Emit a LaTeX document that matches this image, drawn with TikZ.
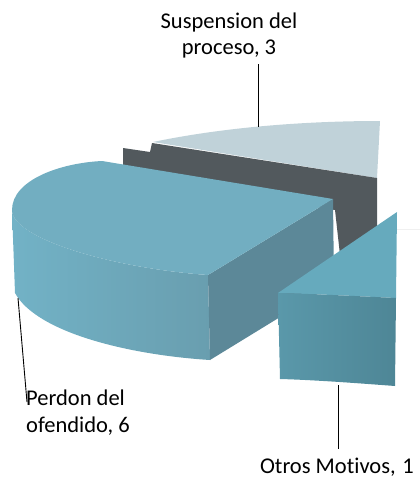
\documentclass[tikz,border=0pt]{standalone}
\usepackage{fontspec}
\setmainfont{Carlito}[Ligatures=NoCommon]
\usepackage{xcolor}
\usetikzlibrary{positioning}

\definecolor{suspTop}{HTML}{C0D2D9}
\definecolor{suspSide}{HTML}{52595D}
\definecolor{perdTop}{HTML}{72AEC1}
\definecolor{perdSideL}{HTML}{72B2C6}
\definecolor{perdSideR}{HTML}{699EAF}
\definecolor{perdCut}{HTML}{5C8898}
\definecolor{otrTop}{HTML}{66AABD}
\definecolor{otrSideL}{HTML}{5A98AA}
\definecolor{otrSideR}{HTML}{4E8696}

\begin{document}
\begin{tikzpicture}[x=1pt,y=-1pt,
   lead/.style={draw=black,line width=0.9pt},
   lbl/.style={inner sep=0pt,font=\fontsize{22.5}{26.5}\selectfont}]
   \useasboundingbox (0,0) rectangle (420,479);

   % Suspension del proceso
   \fill[suspTop] (153,142) .. controls (220,128) and (300,121) .. (380,121)
      -- (377,178) -- cycle;
   \fill[suspSide] (123,148) -- (150,152) -- (152,143) -- (377,178)
      -- (377,228) -- (340,255) -- (335,210) -- (123,175) -- cycle;

   % Perdon del ofendido
   \shade[left color=perdSideL,right color=perdSideR]
      (12,210) -- (15,293) .. controls (37,333) and (130,355) .. (210,360)
      -- (208,275) .. controls (110,268) and (12,238) .. (12,210);
   \fill[perdCut] (208,275) -- (333,199) -- (334,284) -- (210,360) -- cycle;
   \fill[perdTop] (333,199) -- (102,161) .. controls (60,163) and (12,180) .. (12,210)
      .. controls (12,238) and (110,268) .. (208,275) -- cycle;

   % Otros Motivos
   \fill[otrTop] (278,293) -- (397,212) -- (396,298)
      .. controls (355,296) and (315,294) .. (278,293) -- cycle;
   \shade[left color=otrSideL,right color=otrSideR]
      (278,293) .. controls (315,294) and (355,296) .. (396,298)
      -- (395,386) .. controls (355,383) and (315,380) .. (280,379) -- cycle;
   \draw[gray!12] (397,229) -- (420,229);

   % labels
   \node[lbl,align=center,anchor=north] (susp) at (229,12.5) {Suspension del\\proceso, 3};
   \node[lbl,align=left,anchor=north west] (perd) at (26,390) {Perdon del\\ofendido, 6};
   \node[lbl,anchor=base] (otr) at (337,473) {Otros Motivos,\hspace{0.3em}1};

   \coordinate (suspTip) at (258,127);
   \coordinate (perdTip) at (18,298);
   \coordinate (perdEnd) at (27,402);
   \coordinate (otrTip) at (338,385);
   \draw[lead] (suspTip) -- ([yshift=-5pt]susp.south -| suspTip);
   \draw[lead] (perdTip) -- (perdEnd);
   \draw[lead] (otrTip) -- ([yshift=8pt]otr.north -| otrTip);
\end{tikzpicture}
\end{document}
